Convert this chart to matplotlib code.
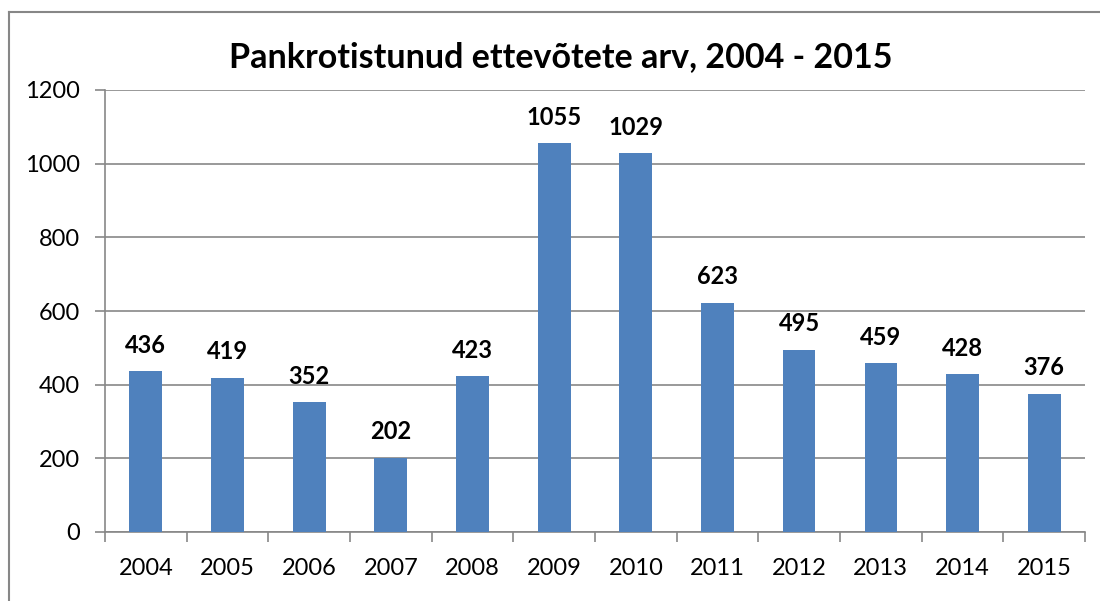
import matplotlib
matplotlib.use("Agg")
import matplotlib.pyplot as plt
from matplotlib.lines import Line2D
import numpy as np

years = ["2004", "2005", "2006", "2007", "2008", "2009", "2010", "2011", "2012", "2013", "2014", "2015"]
values = [436, 419, 352, 202, 423, 1055, 1029, 623, 495, 459, 428, 376]
yticks = [0, 200, 400, 600, 800, 1000, 1200]
title = "Pankrotistunud ettevõtete arv, 2004 - 2015"

plt.rcParams['font.family'] = ['Lato', 'DejaVu Sans']

fig = plt.figure(figsize=(11, 6.01), dpi=100)
ax = fig.add_axes([105/1100, 1-532/601, 980/1100, (532-90)/601])

gray = "#878787"
x = np.arange(len(years))
ax.bar(x, values, width=0.40, color="#4F81BD", zorder=3)
for xi, v in zip(x, values):
    ax.annotate(str(v), (xi, v), xytext=(0, 18.5), textcoords="offset points",
                ha="center", va="center", fontsize=17, fontweight="bold", color="black")

ax.set_xlim(-0.5, len(years) - 0.5)
ax.set_ylim(0, 1200)
ax.set_yticks(yticks)
ax.set_yticklabels([str(t) for t in yticks], fontsize=17)
ax.set_xticks(x)
ax.set_xticklabels(years, fontsize=17)
ax.tick_params(axis="x", length=0, pad=19)
ax.set_xticks(np.arange(-0.5, len(years)), minor=True)
ax.tick_params(axis="x", which="minor", length=7, color=gray, width=1.2)
ax.tick_params(axis="y", length=7, color=gray, width=1.2, pad=11)
ax.grid(axis="y", color=gray, linewidth=1.2, zorder=0)
for s in ["top", "right"]:
    ax.spines[s].set_visible(False)
for s in ["left", "bottom"]:
    ax.spines[s].set_color(gray)
    ax.spines[s].set_linewidth(1.2)

fig.text(561/1100, 1-57/601, title, ha="center", va="center", fontsize=24.5, fontweight="bold")

fig.add_artist(Line2D([9/1100, 1], [1-12/601, 1-12/601], color=gray, linewidth=1.5, transform=fig.transFigure))
fig.add_artist(Line2D([9/1100, 9/1100], [0, 1-12/601], color=gray, linewidth=1.5, transform=fig.transFigure))

fig.savefig("out.png", dpi=100)
